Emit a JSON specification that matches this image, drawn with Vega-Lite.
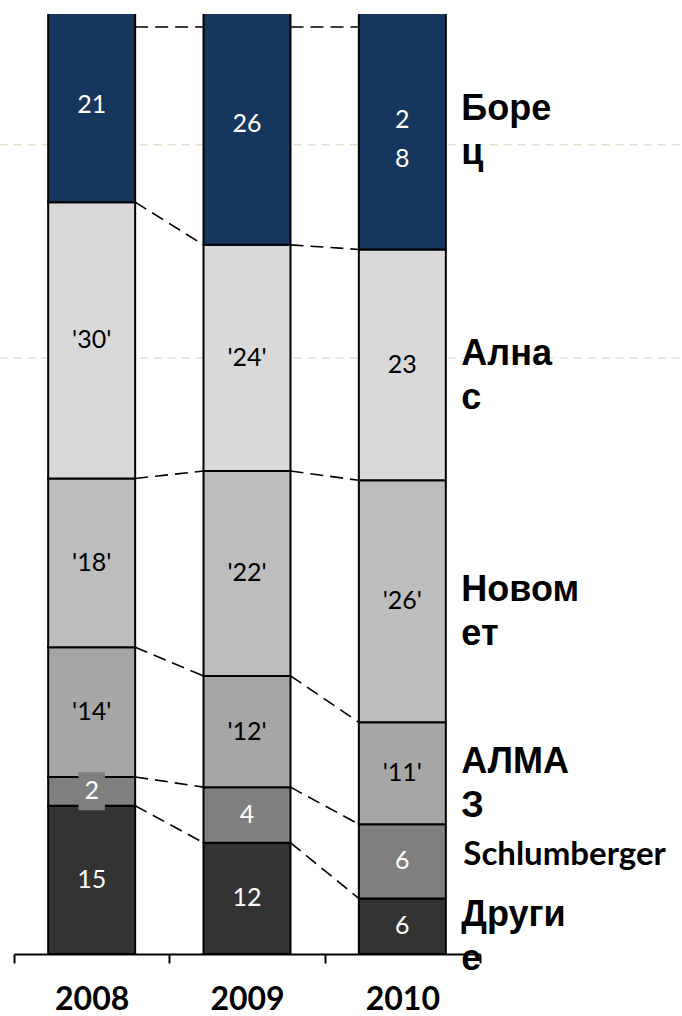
{
  "$schema": "https://vega.github.io/schema/vega-lite/v6.json",
  "autosize": {"type": "none"},
  "width": 466,
  "height": 940,
  "padding": {"left": 14, "top": 14, "right": 202, "bottom": 62},
  "background": "white",
  "config": {
    "view": {"stroke": null},
    "axisX": {
      "title": null, "domainColor": "black", "domainWidth": 2,
      "tickColor": "black", "tickWidth": 2, "tickSize": 9, "tickBand": "extent",
      "labelFont": "Lato", "labelFontWeight": "bold", "labelFontSize": 32,
      "labelColor": "black", "labelAngle": 0, "labelAlign": "center", "labelBaseline": "alphabetic", "labelPadding": 46
    }
  },
  "data": {
    "values": [
      {"year": "2008", "company": "Другие", "order": 1, "value": 16.0, "label": "15", "name": "Други\nе"},
      {"year": "2008", "company": "Schlumberger", "order": 2, "value": 3.1, "label": "2", "name": "Schlumberger"},
      {"year": "2008", "company": "АЛМАЗ", "order": 3, "value": 14.0, "label": "'14'", "name": "АЛМА\nЗ"},
      {"year": "2008", "company": "Новомет", "order": 4, "value": 18.2, "label": "'18'", "name": "Новом\nет"},
      {"year": "2008", "company": "Алнас", "order": 5, "value": 29.8, "label": "'30'", "name": "Ална\nс"},
      {"year": "2008", "company": "Борец", "order": 6, "value": 21, "label": "21", "name": "Боре\nц"},
      {"year": "2009", "company": "Другие", "order": 1, "value": 12.0, "label": "12", "name": "Други\nе"},
      {"year": "2009", "company": "Schlumberger", "order": 2, "value": 6.0, "label": "4", "name": "Schlumberger"},
      {"year": "2009", "company": "АЛМАЗ", "order": 3, "value": 12.0, "label": "'12'", "name": "АЛМА\nЗ"},
      {"year": "2009", "company": "Новомет", "order": 4, "value": 22.1, "label": "'22'", "name": "Новом\nет"},
      {"year": "2009", "company": "Алнас", "order": 5, "value": 24.4, "label": "'24'", "name": "Ална\nс"},
      {"year": "2009", "company": "Борец", "order": 6, "value": 26, "label": "26", "name": "Боре\nц"},
      {"year": "2010", "company": "Другие", "order": 1, "value": 6.0, "label": "6", "name": "Други\nе"},
      {"year": "2010", "company": "Schlumberger", "order": 2, "value": 8.0, "label": "6", "name": "Schlumberger"},
      {"year": "2010", "company": "АЛМАЗ", "order": 3, "value": 11.0, "label": "'11'", "name": "АЛМА\nЗ"},
      {"year": "2010", "company": "Новомет", "order": 4, "value": 26.1, "label": "'26'", "name": "Новом\nет"},
      {"year": "2010", "company": "Алнас", "order": 5, "value": 24.9, "label": "23", "name": "Ална\nс"},
      {"year": "2010", "company": "Борец", "order": 6, "value": 28, "label": "2\n8", "name": "Боре\nц"}
    ]
  },
  "layer": [
    {
      "data": {"values": [{"g": 87.3}, {"g": 64.3}]},
      "mark": {"type": "rule", "color": "#e4e0d0", "strokeDash": [8, 6], "strokeWidth": 1.5, "xOffset": -92, "x2Offset": 280},
      "encoding": {
        "x": {"datum": "2008", "type": "nominal", "scale": {"paddingInner": 0, "paddingOuter": 0}, "axis": {"bandPosition": 0.5}},
        "x2": {"datum": "2010"},
        "y": {"field": "g", "type": "quantitative", "axis": null}
      }
    },
    {
      "mark": {"type": "bar", "width": {"band": 0.56}, "stroke": "black", "strokeWidth": 2, "clip": true},
      "encoding": {
        "x": {"field": "year", "type": "nominal", "scale": {"paddingInner": 0, "paddingOuter": 0}, "axis": {"bandPosition": 0.5}},
        "y": {
          "field": "value", "type": "quantitative", "stack": "zero",
          "scale": {"domain": [0, 101.4], "nice": false},
          "axis": null
        },
        "color": {
          "field": "company", "type": "nominal",
          "scale": {
            "domain": ["Другие", "Schlumberger", "АЛМАЗ", "Новомет", "Алнас", "Борец"],
            "range": ["#333333", "#7f7f7f", "#a6a6a6", "#bdbdbd", "#d9d9d9", "#17365d"]
          },
          "legend": null
        },
        "order": {"field": "order", "type": "quantitative"}
      }
    },
    {
      "transform": [
        {"stack": "value", "groupby": ["year"], "sort": [{"field": "order", "order": "ascending"}], "as": ["v0", "v1"]},
        {"window": [{"op": "lead", "field": "v1", "as": "nv1"}, {"op": "lead", "field": "year", "as": "nyear"}], "groupby": ["company"], "sort": [{"field": "year", "order": "ascending"}]},
        {"filter": "datum.nyear != null && datum.company !== 'Борец'"}
      ],
      "mark": {"type": "rule", "color": "black", "strokeDash": [13, 7], "strokeWidth": 1.6, "xOffset": 43.5, "x2Offset": -43.5},
      "encoding": {
        "x": {"field": "year", "type": "nominal"},
        "x2": {"field": "nyear"},
        "y": {"field": "v1", "type": "quantitative"},
        "y2": {"field": "nv1"}
      }
    },
    {
      "transform": [
        {"window": [{"op": "lead", "field": "year", "as": "nyear"}], "groupby": ["company"], "sort": [{"field": "year", "order": "ascending"}]},
        {"filter": "datum.nyear != null && datum.company === 'Борец'"}
      ],
      "mark": {"type": "rule", "color": "black", "strokeDash": [13, 7], "strokeWidth": 1.6, "xOffset": 43.5, "x2Offset": -43.5},
      "encoding": {
        "x": {"field": "year", "type": "nominal"},
        "x2": {"field": "nyear"},
        "y": {"datum": 100, "type": "quantitative"}
      }
    },
    {
      "mark": {"type": "point", "shape": "M-0.7,-1H0.7V1H-0.7Z", "filled": true, "size": 1444, "color": "#7f7f7f", "strokeWidth": 0, "clip": true},
      "encoding": {
        "x": {"field": "year", "type": "nominal"},
        "y": {"field": "value", "type": "quantitative", "stack": "zero", "bandPosition": 0.5},
        "detail": {"field": "company"},
        "order": {"field": "order", "type": "quantitative"},
        "opacity": {"condition": {"test": "datum.company === 'Schlumberger' && datum.year !== '2010'", "value": 1}, "value": 0}
      }
    },
    {
      "mark": {"type": "text", "font": "Lato", "fontSize": 25, "baseline": "middle", "align": "center", "lineBreak": "\n", "lineHeight": 39},
      "encoding": {
        "x": {"field": "year", "type": "nominal"},
        "y": {"field": "value", "type": "quantitative", "stack": "zero", "bandPosition": 0.5},
        "detail": {"field": "company"},
        "order": {"field": "order", "type": "quantitative"},
        "text": {"field": "label"},
        "color": {"condition": {"test": "indexof(['Борец','Schlumberger','Другие'], datum.company) >= 0", "value": "white"}, "value": "black"}
      }
    },
    {
      "transform": [{"filter": "datum.year === '2010'"}],
      "mark": {"type": "text", "font": "Liberation Sans", "fontWeight": "bold", "fontSize": 36, "align": "left", "baseline": "alphabetic", "dx": 59, "lineBreak": "\n", "lineHeight": 44, "color": "black"},
      "encoding": {
        "x": {"field": "year", "type": "nominal"},
        "y": {"field": "value", "type": "quantitative", "stack": "zero", "bandPosition": 0.5},
        "detail": {"field": "company"},
        "order": {"field": "order", "type": "quantitative"},
        "text": {"field": "name"},
        "opacity": {"condition": {"test": "datum.company === 'Schlumberger'", "value": 0}, "value": 1}
      }
    },
    {
      "transform": [{"filter": "datum.year === '2010'"}],
      "mark": {"type": "text", "font": "Lato", "fontWeight": "bold", "fontSize": 33, "align": "left", "baseline": "alphabetic", "dx": 61, "dy": 4, "color": "black"},
      "encoding": {
        "x": {"field": "year", "type": "nominal"},
        "y": {"field": "value", "type": "quantitative", "stack": "zero", "bandPosition": 0.5},
        "detail": {"field": "company"},
        "order": {"field": "order", "type": "quantitative"},
        "text": {"field": "name"},
        "opacity": {"condition": {"test": "datum.company === 'Schlumberger'", "value": 1}, "value": 0}
      }
    }
  ]
}
